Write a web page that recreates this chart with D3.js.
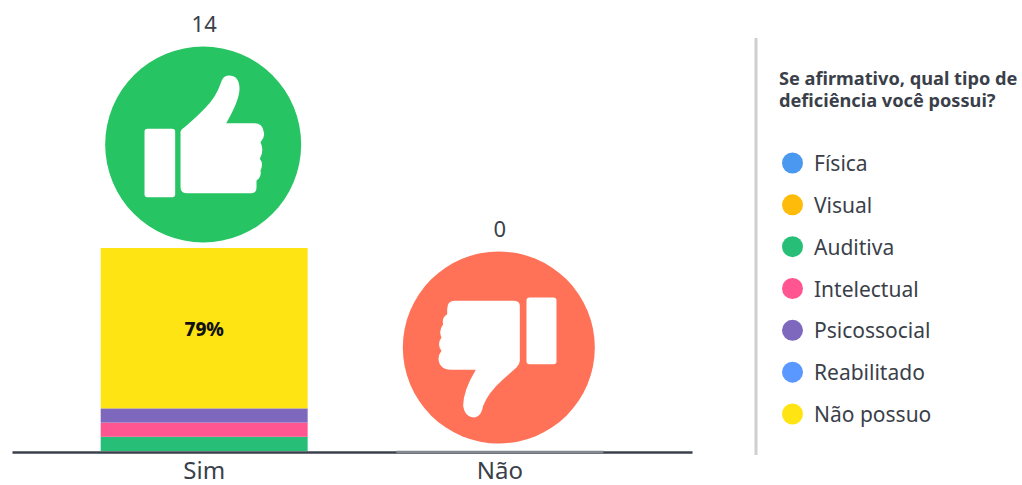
<!DOCTYPE html>
<html lang="pt">
<head>
    <meta charset="UTF-8">
    <script src="https://cdn.jsdelivr.net/npm/d3@7"></script>
    <title>Deficiência</title>
    <style>
        html, body { margin: 0; padding: 0; background: #fff; overflow: hidden; }
        text { font-family: "Noto Sans", Lato, sans-serif; fill: #3a3f4a; }
    </style>
</head>
<body>
<script>
    // dados
    var categories = ["Sim", "Não"];
    var totals = [14, 0];
    var types = ["Física", "Visual", "Auditiva", "Intelectual", "Psicossocial", "Reabilitado", "Não possuo"];
    var typeColors = ["#4a98f0", "#ffbb0a", "#27bf78", "#ff5590", "#7d68bd", "#5a98ff", "#ffe414"];
    var simPct = [0, 0, 7, 7, 7, 0, 79];
    var naoPct = [0, 0, 0, 0, 0, 0, 0];
    var title = ["Se afirmativo, qual tipo de", "deficiência você possui?"];

    var width = 1022, height = 485;

    var svg = d3.select("body").append("svg")
        .attr("width", width)
        .attr("height", height);

    var x = d3.scaleBand()
        .domain(categories)
        .range([12, 692])
        .paddingInner(0.3)
        .paddingOuter(0.3);

    var y = d3.scaleLinear()
        .domain([0, 100])
        .range([451, 248]);

    var color = d3.scaleOrdinal().domain(types).range(typeColors);

    // uma linha por categoria para o d3.stack
    var rows = categories.map(function (c, i) {
        var row = { category: c };
        types.forEach(function (t, j) {
            row[t] = (i === 0 ? simPct : naoPct)[j];
        });
        return row;
    });

    var series = d3.stack().keys(types)(rows);

    svg.selectAll("g.layer")
        .data(series)
        .enter()
        .append("g")
        .attr("class", "layer")
        .attr("fill", d => color(d.key))
        .selectAll("rect")
        .data(d => d)
        .enter()
        .append("rect")
        .attr("x", d => x(d.data.category))
        .attr("y", d => y(d[1]))
        .attr("width", x.bandwidth())
        .attr("height", d => y(d[0]) - y(d[1]));

    // eixo
    var axis = svg.append("g")
        .attr("transform", "translate(0,452)")
        .call(d3.axisBottom(x).tickSize(0).tickPadding(10));
    axis.select(".domain")
        .attr("stroke", "#3a3f4a")
        .attr("stroke-width", 2.5);
    axis.selectAll(".tick text")
        .style("font-size", "24px");

    // barra vazia aparece como um trecho mais claro do eixo
    svg.append("g").selectAll("line")
        .data(categories.filter((c, i) => totals[i] === 0))
        .enter()
        .append("line")
        .attr("x1", d => x(d))
        .attr("x2", d => x(d) + x.bandwidth())
        .attr("y1", 452)
        .attr("y2", 452)
        .attr("stroke", "#84878e")
        .attr("stroke-width", 2.5);

    // rótulo do maior segmento
    var biggest = d3.max(simPct);
    var start = d3.sum(simPct.slice(0, simPct.indexOf(biggest)));
    svg.append("text")
        .attr("x", x("Sim") + x.bandwidth() / 2)
        .attr("y", y(start + biggest / 2) + 8)
        .attr("text-anchor", "middle")
        .style("font-size", "19px")
        .style("font-weight", "800")
        .style("fill", "#111")
        .text(biggest + "%");

    // ícones (desenhados em torno do centro do círculo, escala 1/3)
    var thumbUp = "M-68,-37 L-68,128 Q-68,146 -48,146 L144,146 Q160,146 160,128 L160,108 Q176,98 172,78 Q182,58 170,43 Q184,18 172,-7 Q186,-22 182,-37 Q179,-64 154,-64 L69,-64 Q109,-132 109,-167 Q109,-207 76,-207 Q59,-207 52,-182 Q39,-142 4,-107 Q-36,-67 -56,-52 Q-68,-44 -68,-37 Z";
    var thumbDown = "M63,-125 Q63,-140 43,-140 L-132,-140 Q-155,-140 -155,-115 L-155,-100 Q-172,-90 -167,-70 Q-182,-50 -172,-30 Q-187,-10 -172,10 Q-187,30 -177,50 Q-167,67 -142,67 L-69,67 Q-107,130 -107,175 Q-102,210 -72,210 Q-52,207 -47,175 Q-32,135 13,95 L53,60 Q63,50 63,40 Z";

    var icons = [
        { fill: "#27c463", r: 98, hand: thumbUp, box: [-176, -47, 92, 205] },
        { fill: "#ff7257", r: 96, hand: thumbDown, box: [83, -150, 90, 200] }
    ];

    var icon = svg.selectAll("g.icon")
        .data(categories)
        .enter()
        .append("g")
        .attr("class", "icon")
        .attr("transform", (d, i) => "translate(" + (x(d) + x.bandwidth() / 2 - 1) + "," + (y(i === 0 ? d3.sum(simPct) : d3.sum(naoPct)) - 103.5) + ")");

    icon.append("circle")
        .attr("r", (d, i) => icons[i].r)
        .attr("fill", (d, i) => icons[i].fill);

    var glyph = icon.append("g").attr("transform", "scale(0.3333)");
    glyph.append("path")
        .attr("d", (d, i) => icons[i].hand)
        .attr("fill", "#fff");
    glyph.append("rect")
        .attr("x", (d, i) => icons[i].box[0])
        .attr("y", (d, i) => icons[i].box[1])
        .attr("width", (d, i) => icons[i].box[2])
        .attr("height", (d, i) => icons[i].box[3])
        .attr("rx", 9)
        .attr("fill", "#fff");

    icon.append("text")
        .attr("x", 1)
        .attr("y", (d, i) => -icons[i].r - 15)
        .attr("text-anchor", "middle")
        .style("font-size", "22px")
        .text((d, i) => totals[i]);

    // divisor
    svg.append("line")
        .attr("x1", 756).attr("x2", 756)
        .attr("y1", 38).attr("y2", 455)
        .attr("stroke", "#cfcfcf")
        .attr("stroke-width", 3);

    // legenda: uma linha de texto por elemento, para não sobrepor as caixas
    svg.selectAll("text.title")
        .data(title)
        .enter()
        .append("text")
        .attr("class", "title")
        .attr("x", 779)
        .attr("y", (d, i) => 85 + i * 22)
        .style("font-size", "18.2px")
        .style("font-weight", "700")
        .text(d => d);

    var legendY = d3.scalePoint().domain(types).range([163, 414]);

    var legend = svg.selectAll("g.legend")
        .data(types)
        .enter()
        .append("g")
        .attr("class", "legend")
        .attr("transform", d => "translate(792.5," + legendY(d) + ")");

    legend.append("circle")
        .attr("r", 10.5)
        .attr("fill", d => color(d));

    legend.append("text")
        .attr("x", 21.5)
        .attr("y", 8)
        .style("font-size", "21px")
        .text(d => d);
</script>
</body>
</html>
